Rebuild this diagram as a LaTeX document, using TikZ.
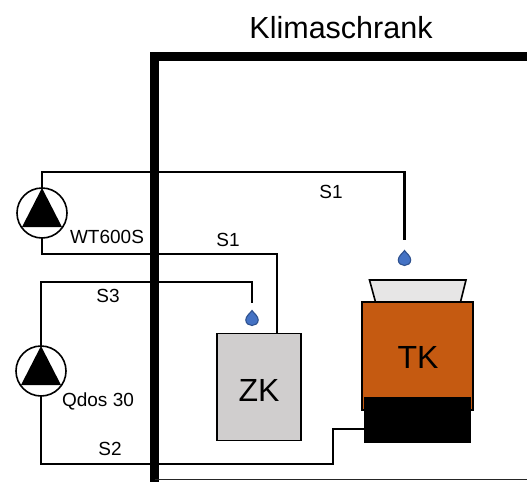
\documentclass[tikz,border=0pt]{standalone}
\usepackage{fontspec}
\usepackage{tikz}
\usetikzlibrary{calc}
\setmainfont{Liberation Sans}
\definecolor{tkorange}{RGB}{197,90,17}
\definecolor{zkgray}{RGB}{208,206,206}
\definecolor{lidgray}{RGB}{231,230,230}
\definecolor{dropblue}{RGB}{68,114,196}
\definecolor{dropline}{RGB}{47,82,143}
\tikzset{
  pipe/.style={line width=2.1pt, color=black},
  wall/.style={line width=9pt, color=black},
  lbl/.style={inner sep=0pt, font=\fontsize{19}{22}\selectfont},
  tag/.style={inner sep=0pt, font=\fontsize{32}{36}\selectfont},
  pumpbody/.style={circle, draw=black, line width=1.6pt, fill=white, minimum size=50pt, inner sep=0pt, outer sep=0pt},
}
\newcommand{\pumptri}[1]{\fill[black] ($(#1)+(0,-25)$) -- ($(#1)+(20,14)$) -- ($(#1)+(-20,14)$) -- cycle;}
\newcommand{\drop}[1]{\draw[line width=1.1pt, color=dropline, fill=dropblue] ($(#1)+(0,-7.5)$) .. controls ($(#1)+(2,-4.5)$) and ($(#1)+(6.2,-2)$) .. ($(#1)+(6.2,2)$) .. controls ($(#1)+(6.2,5.5)$) and ($(#1)+(3,7.5)$) .. ($(#1)+(0,7.5)$) .. controls ($(#1)+(-3,7.5)$) and ($(#1)+(-6.2,5.5)$) .. ($(#1)+(-6.2,2)$) .. controls ($(#1)+(-6.2,-2)$) and ($(#1)+(-2,-4.5)$) .. cycle;}
\begin{document}
\begin{tikzpicture}[x=1pt,y=-1pt]
\useasboundingbox (0,0) rectangle (527,482);

% boxes
\node[draw=black, line width=1.6pt, fill=zkgray, minimum width=84pt, minimum height=107pt, inner sep=0pt, outer sep=0pt] (zk) at (259,387) {};
\draw[line width=1.6pt, fill=lidgray] (375.5,302) -- (369.5,280) -- (466,280) -- (460.5,302);
\node[draw=black, line width=1.6pt, fill=tkorange, minimum width=111pt, minimum height=108pt, inner sep=0pt, outer sep=0pt] (tk) at (417.5,356) {};
\node[fill=black, minimum width=107pt, minimum height=46pt, inner sep=0pt, outer sep=0pt] (heater) at (417.5,419.7) {};
\node[tag] at (259,390) {ZK};
\node[tag] at (418,357) {TK};

% pumps
\node[pumpbody] (wt) at (42,213) {};
\node[pumpbody] (qd) at (41,371) {};
\pumptri{wt}
\pumptri{qd}

% pipes
\coordinate (s1end) at (404.5,240);
\coordinate (s1tap) at (277,254);
\coordinate (s3end) at (252,303);
\coordinate (s2riser) at (333,429);
\draw[pipe] (wt.north) -- (42,172.3) -- (404.5,172.3) -- (s1end);
\draw[pipe] (wt.south) -- (42,254) -- (s1tap) -- (s1tap |- zk.north);
\draw[pipe, line width=2.4pt] (qd.north) -- (41,281.7) -- (252,281.7) -- (s3end);
\draw[pipe] (qd.south) -- (41,464.3) -- (333,464.3) -- (s2riser) -- (s2riser -| heater.west);

% cabinet
\draw[wall] (527,56.5) -- (154.5,56.5) -- (154.5,482);
\draw[line width=1.5pt, color=black!85] (154.5,479.5) -- (527,479.5);

% drops
\coordinate (d1) at (404.5,258);
\coordinate (d2) at (252,318);
\drop{d1}
\drop{d2}

% labels
\node[inner sep=0pt, font=\fontsize{30.5}{34}\selectfont] at (341,28) {Klimaschrank};
\node[lbl] at (331,192) {S1};
\node[lbl] at (228,240) {S1};
\node[lbl] at (107,237) {WT600S};
\node[lbl] at (108,296) {S3};
\node[lbl] at (98,401) {Qdos 30};
\node[lbl] at (110,449) {S2};
\end{tikzpicture}
\end{document}
